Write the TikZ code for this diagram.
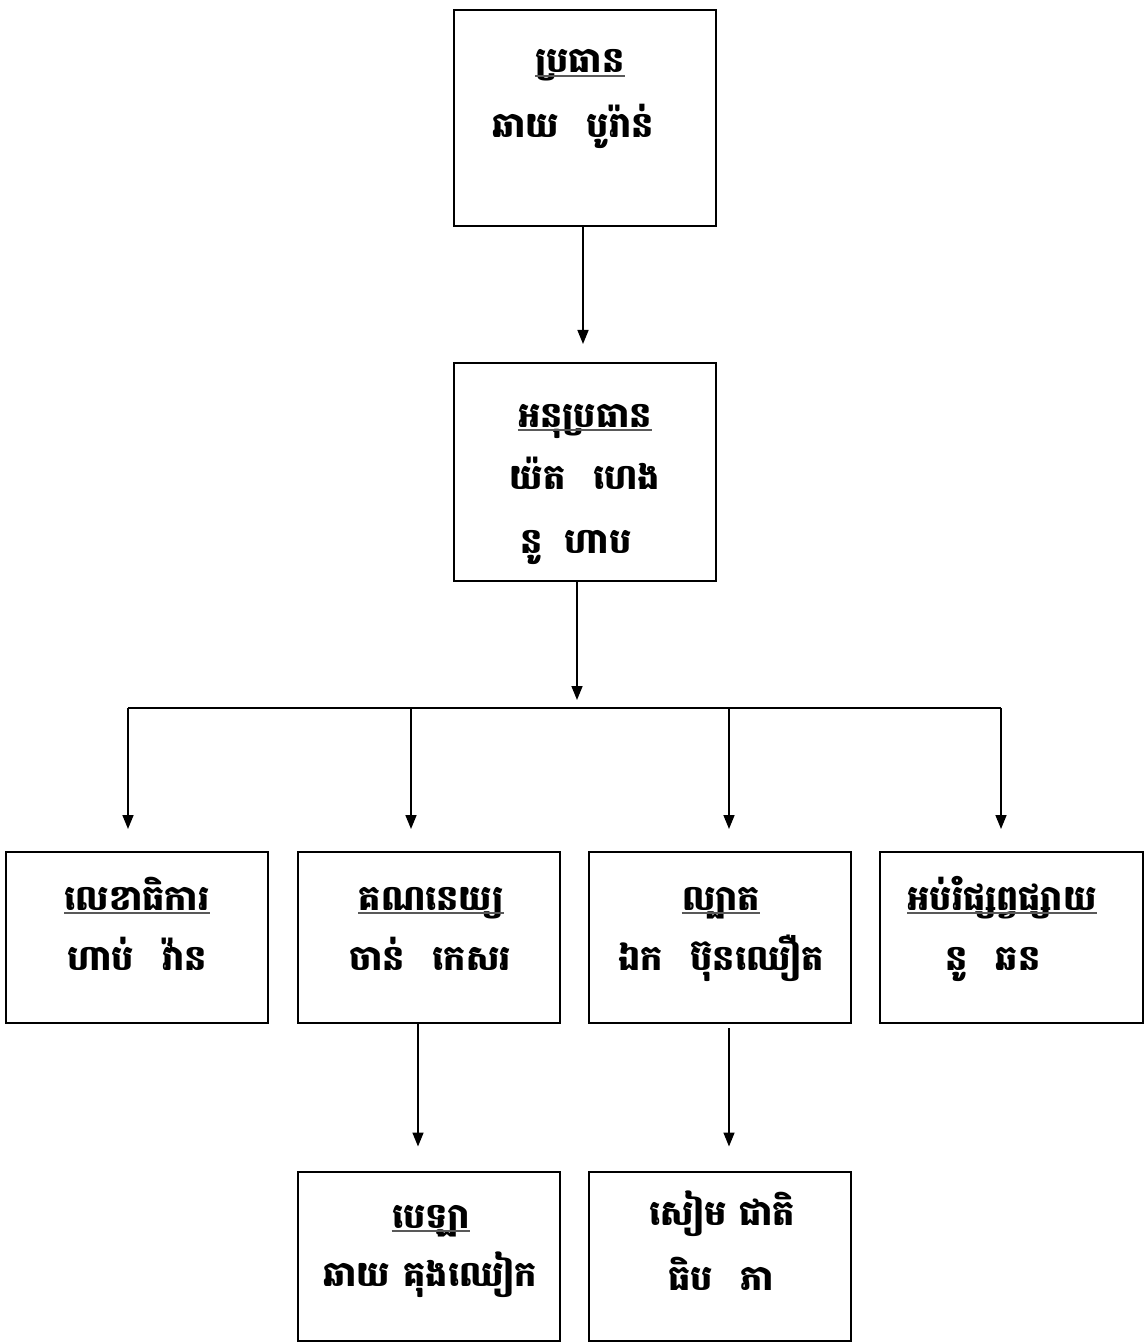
\documentclass[tikz,border=0pt]{standalone}
\usepackage{fontspec}
\newfontfamily\kh[Script=Khmer]{Battambang}
\usetikzlibrary{arrows.meta}
\begin{document}
\begin{tikzpicture}[x=0.5pt,y=-0.5pt,
  box/.style={draw, line width=1pt, inner sep=0pt, minimum width=131pt},
  txt/.style={font=\kh\bfseries\fontsize{17.5}{21}\selectfont, anchor=base, inner sep=0pt},
  ttl/.style={txt},
  ul/.style={draw=black!65, line width=0.6pt},
  line/.style={draw, line width=0.8pt},
  arr/.style={line, -{Triangle[length=7pt,width=5.5pt]}}]
\useasboundingbox (0,0) rectangle (1145,1342);
% boxes
\node[box, minimum height=108pt] (top) at (585,118) {};
\node[box, minimum height=109pt] (vice) at (585,472) {};
\node[box, minimum height=85.5pt] (sec) at (137,937.5) {};
\node[box, minimum height=85.5pt] (acc) at (429,937.5) {};
\node[box, minimum height=85.5pt] (pat) at (720,937.5) {};
\node[box, minimum height=85.5pt, minimum width=131.5pt] (edu) at (1011.5,937.5) {};
\node[box, minimum height=84.5pt] (cash) at (429,1256) {};
\node[box, minimum height=84.5pt] (pat2) at (720,1256) {};
% texts
\node[ttl] (t1) at (580,73) {ប្រធាន};
\node[txt] (n1) at (573,138) {ឆាយ\hspace{14pt}បូរ៉ាន់};
\node[ttl] (t2) at (585,427) {អនុប្រធាន};
\node[txt] (n2a) at (585,489) {យ៉ត\hspace{14pt}ហេង};
\node[txt] (n2b) at (576,553) {នូ\hspace{11pt}ហាប};
\node[ttl] (t3) at (137,910) {លេខាធិការ};
\node[txt] (n3) at (137,970) {ហាប់\hspace{14pt}វ៉ាន};
\node[ttl] (t4) at (431,910) {គណនេយ្យ};
\node[txt] (n4) at (430,970) {ចាន់\hspace{14pt}កេសរ};
\node[ttl] (t5) at (721,910) {ល្បាត};
\node[txt] (n5) at (721,970) {ឯក\hspace{14pt}ប៊ុនឈឿត};
\node[ttl] (t6) at (1002,910) {អប់រំផ្សព្វផ្សាយ};
\node[txt] (n6) at (993,970) {នូ\hspace{14pt}ឆន};
\node[ttl] (t7) at (431,1228) {បេឡា};
\node[txt] (n7) at (430,1286) {ឆាយ\hspace{7pt}គុងឈៀក};
\node[txt] (n8a) at (722,1225) {សៀម\hspace{6pt}ជាតិ};
\node[txt] (n8b) at (721,1290) {ធិប\hspace{14pt}ភា};
% underlines
\foreach \t in {t1,t2,t3,t4,t5,t6,t7}
  \draw[ul] ([yshift=-1.5pt]\t.base west) -- ([yshift=-1.5pt]\t.base east);
% connectors
\draw[arr] ([xshift=-1pt]top.south) -- ([xshift=-1pt,yshift=9pt]vice.north);
\coordinate (busL) at (128,708);
\coordinate (busR) at (1001,708);
\coordinate (busM) at (577,708);
\coordinate (dB) at (411,708);
\coordinate (dC) at (729,708);
\draw[arr] (vice.south -| busM) -- ([yshift=4pt]busM);
\draw[line] (busL) -- (busR);
\draw[arr] (busL) -- ([yshift=11pt]sec.north -| busL);
\draw[arr] (dB) -- ([yshift=11pt]acc.north -| dB);
\draw[arr] (dC) -- ([yshift=11pt]pat.north -| dC);
\draw[arr] (busR) -- ([yshift=11pt]edu.north -| busR);
\coordinate (cB) at (418,0);
\coordinate (cC) at (729,0);
\draw[arr] (acc.south -| cB) -- ([yshift=12pt]cash.north -| cB);
\draw[arr] ([yshift=-2pt]pat.south -| cC) -- ([yshift=12pt]pat2.north -| cC);
\end{tikzpicture}
\end{document}
